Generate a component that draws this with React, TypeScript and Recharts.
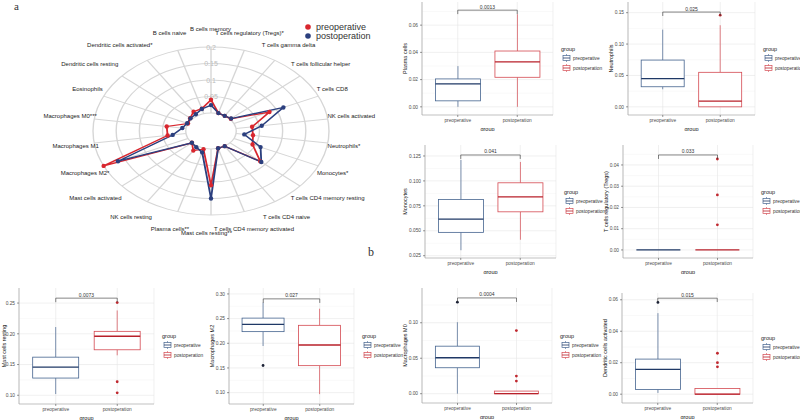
import React from "react";
import {
  RadarChart,
  Radar,
  PolarGrid,
  PolarAngleAxis,
  PolarRadiusAxis,
  ComposedChart,
  Bar,
  XAxis,
  YAxis,
  CartesianGrid,
  ReferenceLine,
} from "recharts";

const FONT = '"Liberation Sans", Arial, Helvetica, sans-serif';
const SERIF = '"Liberation Serif", "DejaVu Serif", serif';

// ---------- radar (panel a) ----------
const cellTypes = [
  "B cells memory",
  "T cells regulatory (Tregs)*",
  "T cells gamma delta",
  "T cells follicular helper",
  "T cells CD8",
  "NK cells activated",
  "Neutrophils*",
  "Monocytes*",
  "T cells CD4 memory resting",
  "T cells CD4 naive",
  "T cells CD4 memory activated",
  "Mast cells resting**",
  "Plasma cells**",
  "NK cells resting",
  "Mast cells activated",
  "Macrophages M2*",
  "Macrophages M1",
  "Macrophages M0***",
  "Eosinophils",
  "Dendritic cells resting",
  "Dendritic cells activated*",
  "B cells naive",
];
const preMeans = [
  0.04, 0.002, 0.0, 0.002, 0.084, 0.035, 0.037, 0.044, 0.086, 0.0, 0.0, 0.11,
  0.003, 0.016, 0.0, 0.2, 0.04, 0.042, 0.0, 0.005, 0.015, 0.016,
];
const postMeans = [
  0.024, 0.002, 0.0, 0.003, 0.117, 0.056, 0.018, 0.063, 0.089, 0.0, 0.0, 0.15,
  0.013, 0.004, 0.0, 0.166, 0.029, 0.008, 0.002, 0.004, 0.006, 0.015,
];
const radiusTicks = [0, 0.05, 0.1, 0.15, 0.2];
const radarLegend = ["preoperative", "postoperation"];

// ---------- box plots (panel b) ----------
const groups = ["preoperative", "postoperation"];
// [lower whisker, Q1, median, Q3, upper whisker] per group
const plasmaBox = [[0, 0.0044, 0.0168, 0.0205, 0.0299], [0, 0.0217, 0.033, 0.041, 0.068]];
const plasmaOut = [[], []];
const neutroBox = [[0.028, 0.032, 0.045, 0.0745, 0.123], [0, 0, 0.009, 0.055, 0.13]];
const neutroOut = [[], [0.146]];
const monoBox = [[0.0305, 0.0484, 0.0617, 0.0814, 0.121], [0.041, 0.069, 0.084, 0.0981, 0.119]];
const monoOut = [[], []];
const tregBox = [[0, 0, 0, 0, 0], [0, 0, 0, 0, 0]];
const tregOut = [[], [0.0428, 0.0259, 0.0118]];
const mastBox = [[0.102, 0.128, 0.1458, 0.162, 0.211], [0.165, 0.174, 0.196, 0.204, 0.238]];
const mastOut = [[], [0.2508, 0.122, 0.104]];
const m2Box = [[0.1945, 0.2236, 0.2384, 0.251, 0.2825], [0.097, 0.1547, 0.1965, 0.2364, 0.27]];
const m2Out = [[0.155], []];
const m0Box = [[0, 0.0366, 0.0507, 0.067, 0.1008], [0, 0, 0, 0.0037, 0.0037]];
const m0Out = [[0.129], [0.089, 0.0248, 0.0178]];
const dcBox = [[0.0008, 0.003, 0.0158, 0.0223, 0.0515], [0, 0, 0, 0.0036, 0.0036]];
const dcOut = [[0.0583], [0.026, 0.02, 0.0174]];

const pValues = ["0.0013", "0.025", "0.041", "0.033", "0.0073", "0.027", "0.0004", "0.015"];

const RED = "#d8262e";
const BLUE = "#2b3f7e";
const BOX_COLORS = [
  { line: "#45648f", median: "#1f3866", dot: "#1c2236" },
  { line: "#d44a52", median: "#b8202a", dot: "#c0282f" },
];
const BORDER = "#a8a8a8";

const panels = [
  { title: "Plasma cells", box: plasmaBox, out: plasmaOut, p: pValues[0], bracket: 0.071, domain: [-0.006, 0.077], ticks: [0, 0.02, 0.04, 0.06], digits: 2, frame: [422, 2, 553, 115] },
  { title: "Neutrophils", box: neutroBox, out: neutroOut, p: pValues[1], bracket: 0.151, domain: [-0.013, 0.167], ticks: [0, 0.05, 0.1, 0.15], digits: 2, frame: [628, 2, 755, 115] },
  { title: "Monocytes", box: monoBox, out: monoOut, p: pValues[2], bracket: 0.126, domain: [0.0227, 0.136], ticks: [0.025, 0.05, 0.075, 0.1, 0.125], digits: 3, frame: [425, 145, 556, 258] },
  { title: "T cells regulatory (Tregs)", box: tregBox, out: tregOut, p: pValues[3], bracket: 0.0447, domain: [-0.0038, 0.0494], ticks: [0, 0.01, 0.02, 0.03, 0.04], digits: 2, frame: [623, 145, 753, 258] },
  { title: "Mast cells resting", box: mastBox, out: mastOut, p: pValues[4], bracket: 0.258, domain: [0.0858, 0.2745], ticks: [0.1, 0.15, 0.2, 0.25], digits: 2, frame: [19, 288, 154, 404] },
  { title: "Macrophages M2", box: m2Box, out: m2Out, p: pValues[5], bracket: 0.29, domain: [0.077, 0.312], ticks: [0.1, 0.15, 0.2, 0.25, 0.3], digits: 2, frame: [229, 288, 354, 404] },
  { title: "Macrophages M0", box: m0Box, out: m0Out, p: pValues[6], bracket: 0.135, domain: [-0.0131, 0.149], ticks: [0, 0.05, 0.1], digits: 2, frame: [422, 288, 552, 403] },
  { title: "Dendritic cells activated", box: dcBox, out: dcOut, p: pValues[7], bracket: 0.061, domain: [-0.0056, 0.0643], ticks: [0, 0.02, 0.04, 0.06], digits: 2, frame: [622, 293, 753, 403] },
];

// radar geometry (ellipse: horizontal stretch)
const RCX = 211;
const RCY = 131;
const RY = 84;
const R0 = 18;
const SX = 118 / 84;

function counterScale(x: number, y: number) {
  return `translate(${x} ${y}) scale(${1 / SX} 1) translate(${-x} ${-y})`;
}

function AngleTick(props: any) {
  const label: string = props.payload.value;
  const i = cellTypes.indexOf(label);
  const th = (i / cellTypes.length) * 2 * Math.PI;
  const s = Math.sin(th);
  const c = Math.cos(th);
  const fs = 6;
  const X = RCX + 118 * s;
  const Y = RCY - 102 * c;
  const w = label.length * fs * 0.5;
  const start = X - (0.5 - 0.5 * s) * w;
  const xs = RCX + (start - RCX) / SX;
  return (
    <text
      x={xs}
      y={Y}
      transform={counterScale(xs, Y)}
      fontSize={fs}
      fontFamily={FONT}
      fill="#222"
      textAnchor="start"
      dominantBaseline="central"
    >
      {label}
    </text>
  );
}

function RadiusTick(props: any) {
  const v = Number(props.payload.value);
  if (v === 0) return <g />;
  return (
    <text
      x={props.x}
      y={props.y}
      transform={counterScale(props.x, props.y)}
      fontSize={7}
      fontFamily={FONT}
      fill="#bcbcbc"
      textAnchor="middle"
      dominantBaseline="central"
    >
      {String(parseFloat(v.toFixed(3)))}
    </text>
  );
}

const makeDot = (color: string) => (p: any) => (
  <ellipse key={`${color}-${p.index}`} cx={p.cx} cy={p.cy} rx={2.2 / SX} ry={2.2} fill={color} />
);

function RadarPanel() {
  const data = cellTypes.map((c, i) => ({ cell: c, pre: preMeans[i], post: postMeans[i] }));
  const rMax = radiusTicks[radiusTicks.length - 1];
  const ringRadii = radiusTicks.map((v) => R0 + (v / rMax) * (RY - R0));
  return (
    <div
      style={{
        position: "absolute",
        left: 0,
        top: 0,
        width: RCX * 2,
        height: RCY * 2,
        transform: `scaleX(${SX})`,
        transformOrigin: `${RCX}px ${RCY}px`,
      }}
    >
      <RadarChart
        width={RCX * 2}
        height={RCY * 2}
        cx={RCX}
        cy={RCY}
        outerRadius={RY}
        innerRadius={R0}
        data={data}
        margin={{ top: 0, right: 0, bottom: 0, left: 0 }}
        style={{ overflow: "visible" }}
      >
        <PolarGrid gridType="circle" polarRadius={ringRadii} stroke="#d6d6d6" strokeWidth={1} />
        <PolarAngleAxis dataKey="cell" tick={AngleTick} tickLine={false} axisLine={false} />
        <PolarRadiusAxis angle={90} domain={[0, rMax]} ticks={radiusTicks as any} tickCount={5} axisLine={false} tickLine={false} tick={RadiusTick} />
        <Radar dataKey="pre" stroke={RED} strokeWidth={1.3} fill={RED} fillOpacity={0} dot={makeDot(RED)} isAnimationActive={false} />
        <Radar dataKey="post" stroke={BLUE} strokeWidth={1.3} fill={BLUE} fillOpacity={0} dot={makeDot(BLUE)} isAnimationActive={false} />
      </RadarChart>
    </div>
  );
}

function RadarLegend() {
  const colors = [RED, BLUE];
  return (
    <svg style={{ position: "absolute", left: 300, top: 20 }} width={90} height={22}>
      {radarLegend.map((t, i) => (
        <g key={t}>
          <circle cx={8} cy={7 + i * 9} r={2.8} fill={colors[i]} />
          <text x={16} y={7 + i * 9} fontSize={9} fontFamily={FONT} fill="#333" dominantBaseline="central">
            {t}
          </text>
        </g>
      ))}
    </svg>
  );
}

// ---------- box plot panel ----------
function makeBoxShape(dmin: number, dmax: number, box: number[][], out: number[][]) {
  return (props: any) => {
    const { x, y, width, height, payload } = props;
    const gi = groups.indexOf(payload.group);
    const k = height / (dmax - dmin);
    const py = (v: number) => y + (dmax - v) * k;
    const [lo, q1, md, q3, hi] = box[gi];
    const col = BOX_COLORS[gi];
    const cx = x + width / 2;
    return (
      <g>
        <line x1={cx} x2={cx} y1={py(hi)} y2={py(q3)} stroke={col.line} strokeWidth={0.7} />
        <line x1={cx} x2={cx} y1={py(q1)} y2={py(lo)} stroke={col.line} strokeWidth={0.7} />
        <rect x={x} y={py(q3)} width={width} height={Math.max(py(q1) - py(q3), 0)} fill="#fff" stroke={col.line} strokeWidth={0.8} />
        <line x1={x} x2={x + width} y1={py(md)} y2={py(md)} stroke={col.median} strokeWidth={1.3} />
        {out[gi].map((o, i) => (
          <circle key={i} cx={cx} cy={py(o)} r={1.4} fill={col.dot} />
        ))}
      </g>
    );
  };
}

function minorValues(ticks: number[], domain: number[]) {
  const step = ticks[1] - ticks[0];
  const vals: number[] = [];
  for (let i = -1; i < ticks.length; i++) {
    const v = ticks[0] + step * (i + 0.5);
    if (v > domain[0] && v < domain[1]) vals.push(v);
  }
  return vals;
}

function GroupLegend({ left, cy }: { left: number; cy: number }) {
  return (
    <svg style={{ position: "absolute", left, top: cy - 16, overflow: "visible" }} width={50} height={34}>
      <text x={0} y={7} fontSize={5.5} fontFamily={FONT} fill="#222" dominantBaseline="central">
        group
      </text>
      {groups.map((g, i) => {
        const ky = 16 + i * 10;
        const col = BOX_COLORS[i];
        return (
          <g key={g}>
            <line x1={5.5} x2={5.5} y1={ky - 4} y2={ky + 4} stroke={col.line} strokeWidth={0.6} />
            <rect x={2} y={ky - 2.5} width={7} height={5} fill="#fff" stroke={col.line} strokeWidth={0.7} />
            <line x1={2} x2={9} y1={ky} y2={ky} stroke={col.median} strokeWidth={0.8} />
            <text x={12} y={ky} fontSize={4.8} fontFamily={FONT} fill="#333" dominantBaseline="central">
              {g}
            </text>
          </g>
        );
      })}
    </svg>
  );
}

function BoxPanel({ spec }: { spec: any }) {
  const [L, T, R, B] = spec.frame;
  const YW = 24;
  const XH = 16;
  const MT = 1;
  const MR = 1;
  const W = R - L;
  const H = B - T;
  const pad = Math.round(W * 0.0455);
  const [dmin, dmax] = spec.domain;
  const rows = groups.map((g) => ({ group: g, span: [dmin, dmax] }));
  const tip = (dmax - dmin) * 0.035;
  const fmt = (v: number) => Number(v).toFixed(spec.digits);
  const tickFs = 4.8;
  const tickW = (spec.digits + 1) * tickFs * 0.556 + tickFs * 0.278;
  const labX = Math.max(YW - 4 - tickW - 3.5, YW - L + 4);
  const labY = MT + H / 2;
  const brStyle = { stroke: "#333", strokeWidth: 0.6 };

  return (
    <>
      <div style={{ position: "absolute", left: L - YW, top: T - MT }}>
        <ComposedChart
          width={W + YW + MR}
          height={H + MT + XH}
          data={rows}
          margin={{ top: MT, right: MR, bottom: 0, left: 0 }}
          barCategoryGap="12.5%"
          style={{ fontFamily: FONT, overflow: "visible" }}
        >
          <CartesianGrid horizontalValues={minorValues(spec.ticks, spec.domain)} vertical={false} stroke="#f2f2f2" strokeWidth={0.5} />
          <CartesianGrid horizontalValues={spec.ticks} stroke="#e6e6e6" strokeWidth={0.6} />
          <XAxis
            dataKey="group"
            padding={{ left: pad, right: pad }}
            interval={0}
            tick={{ fontSize: tickFs, fill: "#4d4d4d" }}
            tickSize={2}
            tickLine={{ stroke: "#333", strokeWidth: 0.5 }}
            axisLine={{ stroke: BORDER, strokeWidth: 0.7 }}
            height={XH}
            label={{ value: "group", position: "insideBottom", offset: 0, fontSize: 5.5, fill: "#111" }}
          />
          <YAxis
            domain={spec.domain}
            ticks={spec.ticks}
            interval={0}
            allowDataOverflow
            width={YW}
            tickFormatter={fmt}
            tick={{ fontSize: tickFs, fill: "#4d4d4d" }}
            tickSize={2}
            tickLine={{ stroke: "#333", strokeWidth: 0.5 }}
            axisLine={{ stroke: BORDER, strokeWidth: 0.7 }}
            label={{
              content: () => (
                <text
                  x={labX}
                  y={labY}
                  transform={`rotate(-90 ${labX} ${labY})`}
                  fontSize={5.5}
                  fontFamily={FONT}
                  fill="#111"
                  textAnchor="middle"
                  dominantBaseline="central"
                >
                  {spec.title}
                </text>
              ),
            }}
          />
          <XAxis xAxisId="top" orientation="top" height={0} tick={false} tickLine={false} axisLine={{ stroke: BORDER, strokeWidth: 0.7 }} />
          <YAxis yAxisId="right" orientation="right" width={0} domain={[0, 1]} tick={false} tickLine={false} axisLine={{ stroke: BORDER, strokeWidth: 0.7 }} />
          <Bar dataKey="span" shape={makeBoxShape(dmin, dmax, spec.box, spec.out)} isAnimationActive={false} />
          <ReferenceLine
            segment={[{ x: groups[0], y: spec.bracket }, { x: groups[1], y: spec.bracket }]}
            {...brStyle}
            ifOverflow="visible"
            label={{ value: spec.p, position: "top", offset: 1.5, fontSize: 5, fill: "#333" }}
          />
          <ReferenceLine segment={[{ x: groups[0], y: spec.bracket }, { x: groups[0], y: spec.bracket - tip }]} {...brStyle} ifOverflow="visible" />
          <ReferenceLine segment={[{ x: groups[1], y: spec.bracket }, { x: groups[1], y: spec.bracket - tip }]} {...brStyle} ifOverflow="visible" />
        </ComposedChart>
      </div>
      <GroupLegend left={R + 8} cy={(T + B) / 2 - 1} />
    </>
  );
}

export default function App() {
  return (
    <div
      style={{
        position: "absolute",
        left: 0,
        top: 0,
        width: 800,
        height: 420,
        background: "#fff",
        overflow: "hidden",
        fontFamily: FONT,
      }}
    >
      <RadarPanel />
      <RadarLegend />
      <div style={{ position: "absolute", left: 14, top: 0, fontFamily: SERIF, fontSize: 11, lineHeight: "12px", color: "#333" }}>a</div>
      <div style={{ position: "absolute", left: 368, top: 246, fontFamily: SERIF, fontSize: 12, lineHeight: "13px", color: "#333" }}>b</div>
      {panels.map((p) => (
        <BoxPanel key={p.title} spec={p} />
      ))}
    </div>
  );
}
